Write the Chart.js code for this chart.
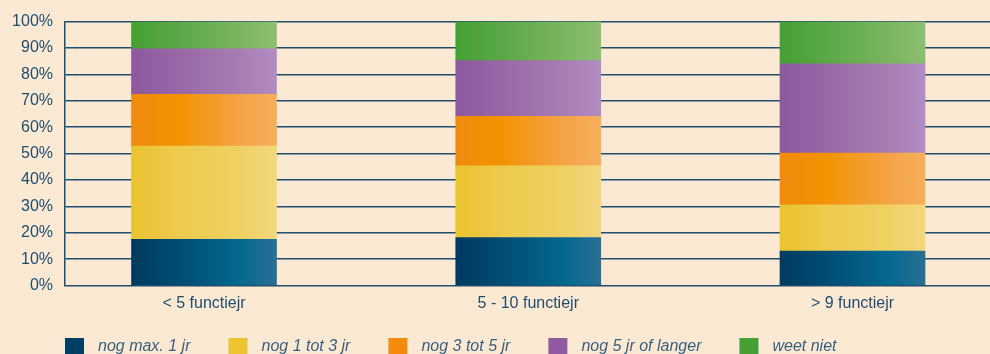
<!DOCTYPE html>
<html>
<head>
<meta charset="utf-8">
<script src="https://cdn.jsdelivr.net/npm/chart.js@4/dist/chart.umd.min.js"></script>
<style>
  html, body { margin: 0; padding: 0; background: #fbe9d3; overflow: hidden; }
  #wrap { position: relative; width: 990px; height: 354px; }
</style>
</head>
<body>
<div id="wrap"><canvas id="chart"></canvas></div>
<script>
const categories = ['< 5 functiejr', '5 - 10 functiejr', '> 9 functiejr'];
const seriesNames = ['nog max. 1 jr', 'nog 1 tot 3 jr', 'nog 3 tot 5 jr', 'nog 5 jr of langer', 'weet niet'];
const maxOneYear = [17.5, 18.2, 13.0];
const oneToThree = [35.3, 27.1, 17.6];
const threeToFive = [19.6, 18.8, 19.6];
const fivePlus = [17.3, 21.1, 33.8];
const dontKnow = [10.3, 14.8, 16.0];
const yTicks = [0, 10, 20, 30, 40, 50, 60, 70, 80, 90, 100];

const seriesValues = [maxOneYear, oneToThree, threeToFive, fivePlus, dontKnow];

// left -> right gradient stops per series, plus the flat legend colour
const gradientStops = [0, 0.3, 0.75, 1];
const gradients = [
  ['#003a5f', '#014b72', '#046890', '#2a6f93'],
  ['#eac32e', '#edca4c', '#efd163', '#f2d77d'],
  ['#ef8a10', '#f39200', '#f4a347', '#f6b05a'],
  ['#8d599f', '#9866a6', '#a77db4', '#b28cc2'],
  ['#45a032', '#5aa746', '#7ab560', '#8cbf70']
];
const legendColors = ['#003e66', '#eec431', '#f28c0a', '#8f5aa0', '#45a035'];
const textColor = '#1f4d6e';
const gridColor = '#1f4d6e';
const BAR_W = 145;

function barFill(i) {
  return (ctx) => {
    const chart = ctx.chart;
    if (!chart.chartArea || !chart.scales.x || ctx.dataIndex == null) return legendColors[i];
    const cx = chart.scales.x.getPixelForValue(ctx.dataIndex + 1);
    const g = chart.ctx.createLinearGradient(cx - BAR_W / 2, 0, cx + BAR_W / 2, 0);
    gradients[i].forEach((col, k) => g.addColorStop(gradientStops[k], col));
    return g;
  };
}

const legendPlugin = {
  id: 'flatLegend',
  afterDraw(chart) {
    const c = chart.ctx;
    c.save();
    c.font = 'italic 16px "Liberation Sans", Arial, sans-serif';
    c.textBaseline = 'alphabetic';
    let x = 65;
    chart.data.datasets.forEach((ds, i) => {
      c.fillStyle = legendColors[i];
      c.fillRect(x, 338, 19, 20);
      c.fillStyle = '#385f7e';
      c.fillText(ds.label, x + 33, 351);
      x += 33 + c.measureText(ds.label).width + 38;
    });
    c.restore();
  }
};

new Chart(document.getElementById('chart'), {
  type: 'bar',
  data: {
    datasets: seriesNames.map((name, i) => ({
      label: name,
      data: seriesValues[i].map((v, j) => ({ x: j + 1, y: v })),
      backgroundColor: barFill(i),
      borderWidth: 0,
      barThickness: BAR_W
    }))
  },
  options: {
    responsive: true,
    maintainAspectRatio: false,
    animation: false,
    layout: { padding: { top: 19.5, right: 0, bottom: 0, left: 0 } },
    plugins: {
      legend: { display: false },
      tooltip: { enabled: false }
    },
    scales: {
      x: {
        type: 'linear',
        stacked: true,
        offset: false,
        min: 0.5713,
        max: 3.424,
        afterBuildTicks: (s) => { s.ticks = categories.map((_, i) => ({ value: i + 1 })); },
        afterFit: (s) => { s.height = 68.5; },
        grid: { display: false, drawTicks: false },
        border: { display: false },
        ticks: {
          color: textColor,
          padding: 8,
          maxRotation: 0,
          autoSkip: false,
          font: { family: '"Liberation Sans", Arial, sans-serif', size: 16 },
          callback: (v) => categories[v - 1] || ''
        }
      },
      y: {
        stacked: true,
        min: 0,
        max: 100,
        afterBuildTicks: (s) => { s.ticks = yTicks.map(v => ({ value: v })); },
        afterFit: (s) => { s.width = 65; },
        grid: { color: gridColor, lineWidth: 1.5, drawTicks: false },
        border: { display: true, color: gridColor, width: 1.5 },
        ticks: {
          color: textColor,
          padding: 12,
          font: { family: '"Liberation Sans", Arial, sans-serif', size: 16 },
          callback: (v) => v + '%'
        }
      }
    }
  },
  plugins: [legendPlugin]
});
</script>
</body>
</html>
